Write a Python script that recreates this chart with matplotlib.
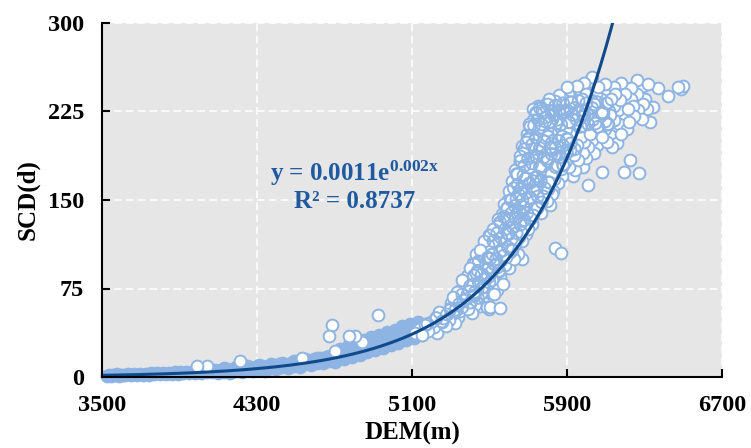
import numpy as np
import matplotlib
matplotlib.use("Agg")
import matplotlib.pyplot as plt

plt.rcParams['font.family'] = ['Liberation Serif', 'DejaVu Serif']
plt.rcParams['mathtext.fontset'] = 'custom'
plt.rcParams['mathtext.rm'] = 'Liberation Serif:bold'
plt.rcParams['mathtext.bf'] = 'Liberation Serif:bold'
plt.rcParams['mathtext.it'] = 'Liberation Serif:bold'

# ---------------- data (DEM in m, SCD in days) ----------------
x_ticks = [3500, 4300, 5100, 5900, 6700]
y_ticks = [0, 75, 150, 225, 300]

# trendline parameters (fit shown on chart)
trend_a = 0.0011
trend_b = 0.00204
eq_label = r'y = 0.0011e$^{0.002x}$'
r2_label = 'R² = 0.8737'

band_low = [
    (3525, 1.0), (3535, 1.9), (3545, 0.9), (3555, 1.8), (3565, 1.3), (3575, 2.2), (3590, 1.2),
    (3605, 2.0), (3620, 1.4), (3635, 2.4), (3650, 1.6), (3665, 2.6), (3680, 1.7), (3695, 2.5),
    (3710, 1.9), (3725, 2.9), (3740, 1.9), (3755, 3.0), (3770, 2.2), (3785, 3.2), (3800, 2.2),
    (3815, 3.4), (3830, 2.5), (3845, 3.6), (3860, 2.6), (3875, 3.9), (3890, 2.7), (3905, 4.1),
    (3920, 3.0), (3935, 4.4), (3950, 3.2), (3965, 4.6), (3980, 3.4), (3995, 5.0), (4010, 3.6),
    (4025, 5.2), (4040, 3.9), (4055, 5.6), (4070, 4.0), (4085, 5.9), (4100, 4.3), (4115, 6.2),
    (4130, 4.6), (4145, 6.6), (4160, 4.9), (4175, 7.0), (4190, 5.2), (4205, 7.4), (4220, 5.5),
    (4235, 7.8), (4250, 5.8), (4265, 8.3), (4280, 6.3), (4295, 8.7), (4310, 6.6), (4325, 9.2),
    (4340, 7.0), (4355, 9.7), (4370, 7.6), (4385, 10.2), (4400, 8.0), (4415, 10.8), (4430, 8.5),
    (4445, 11.4), (4460, 9.0), (4475, 12.0), (4490, 9.6), (4505, 12.7), (4520, 10.2), (4535, 13.5),
    (4550, 10.8), (4565, 14.2), (4580, 11.5), (4595, 15.0), (4610, 12.2), (4625, 15.8), (4640, 13.0),
    (4655, 16.6), (4670, 13.9), (4685, 17.5), (4700, 14.8),
]

band_mid = [
    (4710, 18.5), (4720, 15.8), (4730, 21.0), (4740, 17.0), (4750, 19.5), (4760, 23.0), (4770, 18.0),
    (4780, 21.5), (4790, 25.0), (4800, 19.5), (4810, 23.0), (4820, 27.0), (4830, 21.0), (4840, 25.0),
    (4850, 29.0), (4860, 22.5), (4870, 27.0), (4880, 31.0), (4890, 24.0), (4900, 28.5), (4910, 33.0),
    (4920, 25.5), (4930, 30.0), (4940, 34.5), (4950, 27.0), (4960, 31.5), (4970, 36.0), (4980, 29.0),
    (4990, 33.0), (5000, 37.0), (5010, 30.5), (5020, 35.0), (5030, 39.0), (5040, 32.0), (5050, 36.5),
    (5060, 40.5), (5070, 33.5), (5080, 38.0), (5090, 42.0), (5100, 35.0), (5120, 40.0), (5140, 37.5),
    (5160, 43.0), (5180, 40.5), (5200, 45.0),
]

band_edges = [
    (4100, 3.0), (4130, 7.5), (4160, 3.5), (4190, 8.2), (4220, 4.0), (4250, 9.0), (4280, 4.8),
    (4310, 10.0), (4340, 5.5), (4370, 11.0), (4400, 6.5), (4430, 12.2), (4460, 7.5), (4490, 13.5),
    (4520, 8.8), (4550, 15.0), (4580, 10.0), (4610, 16.5), (4640, 11.5), (4670, 18.0), (4700, 13.0),
    (4730, 24.0), (4750, 15.0), (4770, 26.0), (4790, 17.0), (4810, 28.5), (4830, 19.0), (4850, 31.5),
    (4870, 21.0), (4890, 33.5), (4910, 23.0), (4930, 36.0), (4950, 24.5), (4970, 38.5), (4990, 27.0),
    (5010, 40.0), (5030, 29.0), (5050, 43.0), (5070, 31.0), (5090, 45.0), (5110, 33.0), (5130, 47.0),
    (5150, 36.0),
]

outliers_low = [
    (4689, 44.0), (4672, 34.5), (4776, 35.0), (4807, 34.5), (4844, 30.0), (4923, 52.5),
    (4702, 22.0), (4212, 13.8), (4531, 15.8), (3989, 9.6), (4040, 9.0),
]

cloud_lower = [
    (5115, 37), (5135, 41), (5150, 36), (5165, 44), (5185, 39), (5200, 47), (5215, 42), (5230, 37),
    (5245, 45), (5260, 50), (5275, 43), (5290, 48), (5305, 53), (5320, 46), (5335, 51),
    (5240, 55), (5265, 52), (5290, 57), (5310, 55), (5330, 60), (5350, 56), (5370, 62), (5390, 58),
    (5410, 54), (5425, 61), (5300, 63), (5320, 66), (5345, 68), (5365, 65), (5385, 70), (5405, 66),
    (5430, 64), (5450, 60), (5470, 63), (5499, 58), (5554, 58.5), (5502, 59), (5485, 59.6),
    (5330, 72), (5350, 74), (5375, 77), (5395, 73), (5415, 79), (5435, 75), (5455, 71), (5470, 80),
    (5490, 76), (5510, 72), (5525, 70), (5540, 74), (5312, 68), (5360, 82), (5385, 86), (5405, 83),
    (5430, 88), (5450, 84), (5475, 89), (5495, 86), (5515, 82), (5535, 80), (5555, 85), (5571, 79),
    (5400, 92), (5420, 96), (5440, 93), (5460, 99), (5480, 95), (5500, 101), (5520, 97), (5540, 93),
    (5560, 99), (5580, 95), (5600, 92), (5430, 104), (5450, 108), (5470, 103), (5485, 109),
    (5505, 106), (5525, 110), (5545, 104), (5565, 108), (5585, 102), (5605, 106), (5625, 100),
    (5645, 104), (5666, 100), (5415, 97),
]

cloud_middle = [
    (5470, 115), (5490, 112), (5510, 118), (5530, 114), (5550, 120), (5570, 116), (5590, 122),
    (5610, 117), (5630, 113), (5650, 119), (5670, 115), (5690, 121), (5520, 125), (5540, 128),
    (5560, 124), (5580, 130), (5600, 126), (5620, 131), (5640, 127), (5660, 123), (5680, 129),
    (5700, 125), (5720, 130),
    (5545, 134), (5565, 138), (5585, 135), (5605, 141), (5625, 137), (5645, 143), (5665, 139),
    (5685, 135), (5705, 141), (5725, 137), (5745, 143), (5765, 139), (5575, 147), (5595, 150),
    (5615, 146), (5635, 152), (5655, 148), (5675, 153), (5695, 149), (5715, 145), (5735, 151),
    (5755, 147), (5775, 153), (5795, 149), (5812, 146),
    (5600, 158), (5620, 155), (5640, 161), (5660, 157), (5680, 163), (5700, 159), (5720, 155),
    (5740, 161), (5760, 157), (5780, 163), (5800, 159), (5820, 155), (5829, 158), (5615, 166),
    (5635, 169), (5655, 165), (5675, 171), (5695, 167), (5715, 172), (5735, 168), (5755, 164),
    (5775, 170), (5795, 166), (5815, 172), (5835, 168), (5855, 164), (5875, 170), (5932, 170),
]

cloud_upper = [
    (5630, 175), (5650, 179), (5670, 176), (5690, 182), (5710, 178), (5730, 184), (5750, 180),
    (5770, 176), (5790, 182), (5810, 178), (5830, 184), (5850, 180), (5870, 176), (5890, 182),
    (5910, 178), (5940, 175), (5984, 178), (5655, 187), (5675, 190), (5695, 186), (5715, 192),
    (5735, 188), (5755, 184), (5775, 190), (5795, 186), (5815, 192), (5835, 188), (5855, 184),
    (5875, 190), (5895, 186), (5915, 192), (5935, 188), (5955, 184), (5980, 190), (6000, 186),
    (6040, 190),
    (5668, 196), (5690, 199), (5710, 195), (5730, 201), (5750, 197), (5770, 203), (5790, 199),
    (5810, 195), (5830, 201), (5850, 197), (5870, 203), (5890, 199), (5910, 195), (5930, 201),
    (5950, 197), (5970, 203), (5990, 199), (6010, 195), (6030, 201), (6055, 197), (6080, 203),
    (6105, 199), (6130, 195), (6156, 198), (5695, 206), (5715, 209), (5735, 205), (5755, 211),
    (5775, 207), (5795, 210), (5815, 206), (5835, 212), (5855, 208), (5875, 204), (5895, 210),
    (5915, 206), (5935, 212), (5955, 208), (5975, 204), (5995, 210), (6020, 206), (6045, 211),
    (6070, 207), (6095, 210), (6120, 205), (6150, 209), (6180, 206), (6208, 210),
]

cloud_top = [
    (5705, 214), (5725, 218), (5745, 215), (5765, 221), (5785, 217), (5805, 223), (5825, 219),
    (5845, 215), (5865, 221), (5885, 217), (5905, 223), (5925, 219), (5945, 215), (5965, 221),
    (5985, 217), (6005, 223), (6025, 219), (6045, 215), (6070, 221), (6095, 217), (6120, 222),
    (6145, 218), (6170, 214), (6195, 220), (6220, 216), (6245, 221), (6285, 219), (6328, 216),
    (5725, 227), (5750, 230), (5770, 226), (5790, 231), (5810, 227), (5830, 229), (5850, 225),
    (5870, 231), (5890, 227), (5910, 229), (5930, 225), (5950, 231), (5970, 227), (5990, 229),
    (6015, 225), (6040, 231), (6065, 227), (6090, 229), (6115, 225), (6140, 230), (6165, 226),
    (6190, 231), (6215, 227), (6240, 230), (6265, 226), (6290, 231), (6315, 227), (6344, 229),
    (5809, 236), (5840, 234), (5860, 239), (5885, 235), (5905, 240), (5930, 236), (5955, 241),
    (5975, 236), (6000, 240), (6025, 235), (6050, 240), (6075, 236), (6100, 241), (6125, 236),
    (6150, 240), (6175, 235), (6200, 240), (6230, 236), (6260, 240), (6300, 236), (6423, 238),
    (5900, 246), (5950, 247), (5990, 249), (6027, 254), (6010, 250), (6060, 246), (6095, 248),
    (6140, 246), (6180, 249), (6230, 245), (6259, 252), (6290, 247), (6320, 248), (6371, 245),
    (6474, 245.5), (6500, 247), (6490, 244),
]

cloud_core = [
    (5180, 45), (5225, 50), (5255, 47), (5280, 53), (5300, 58), (5325, 57), (5345, 62), (5360, 59),
    (5380, 66), (5400, 63), (5420, 69), (5440, 67), (5360, 70), (5400, 77), (5425, 72), (5445, 80),
    (5465, 76), (5480, 84), (5500, 80), (5420, 86), (5440, 90), (5460, 87), (5490, 92), (5510, 89),
    (5530, 95), (5550, 90), (5445, 98), (5490, 101), (5515, 104), (5535, 100), (5555, 106),
    (5575, 103), (5595, 110), (5615, 108),
    (5500, 120), (5520, 115), (5540, 122), (5560, 118), (5580, 125), (5600, 121), (5620, 127),
    (5640, 122), (5660, 129), (5680, 133), (5555, 131), (5575, 136), (5595, 133), (5615, 139),
    (5635, 134), (5655, 140), (5675, 144), (5695, 139), (5715, 134), (5590, 143), (5610, 150),
    (5630, 145), (5650, 155), (5670, 150), (5690, 156), (5710, 152), (5730, 158), (5750, 153),
    (5770, 148), (5625, 160), (5645, 163), (5665, 160), (5685, 168), (5705, 164), (5725, 166),
    (5745, 170), (5765, 166), (5785, 160), (5805, 165),
    (5640, 172), (5660, 183), (5680, 179), (5700, 185), (5720, 181), (5740, 187), (5760, 178),
    (5780, 186), (5800, 183), (5820, 189), (5840, 178), (5860, 186), (5880, 180), (5900, 190),
    (5680, 193), (5700, 202), (5720, 197), (5740, 203), (5760, 194), (5780, 200), (5800, 204),
    (5820, 198), (5840, 194), (5860, 200), (5880, 196), (5900, 202), (5920, 198), (5940, 193),
    (5710, 212), (5730, 213), (5750, 218), (5770, 214), (5790, 220), (5810, 216), (5830, 222),
    (5850, 218), (5870, 214), (5890, 224), (5910, 216), (5930, 222), (5950, 218), (5970, 212),
    (5990, 222), (6010, 214), (6035, 218), (6060, 212), (6085, 224), (6110, 214), (5740, 224),
    (5760, 228), (5780, 224), (5800, 231), (5820, 225), (5840, 230), (5860, 226), (5880, 232),
    (5900, 226), (5920, 233), (5940, 228), (5960, 234), (5980, 226), (6000, 232), (6030, 228),
    (6055, 233), (6080, 224), (6105, 232),
]

outliers_high = [
    (5838, 109), (5867, 105), (6079, 174), (6195, 174), (6225, 184), (6273, 173), (6010, 163),
]

# ---------------- figure ----------------
edge_blue = '#8DB4E2'

band = np.array(band_low + band_mid + band_edges, dtype=float)
cloud = np.array(outliers_low + cloud_lower + cloud_middle + cloud_core + cloud_upper
                 + cloud_top + outliers_high, dtype=float)
core = np.array(cloud_core, dtype=float)

# mix the drawing order so the overlaps look like an unsorted point set
n = len(cloud)
step = 97
while np.gcd(step, n) != 1:
    step += 2
order = (np.arange(n) * step) % n
cloud = cloud[order]

fig = plt.figure(figsize=(7.51, 4.48), dpi=100)
ax = fig.add_axes([102 / 751, 1 - 377 / 448, 620 / 751, 354 / 448])
ax.set_facecolor('#E6E6E6')
ax.set_xlim(x_ticks[0], x_ticks[-1])
ax.set_ylim(y_ticks[0], y_ticks[-1])
ax.set_xticks(x_ticks)
ax.set_yticks(y_ticks)
ax.grid(True, color='white', linestyle=(0, (5, 2.8)), linewidth=1.1)
ax.set_axisbelow(True)
for s in ['top', 'right']:
    ax.spines[s].set_visible(False)
for s in ['left', 'bottom']:
    ax.spines[s].set_linewidth(1.5)
    ax.spines[s].set_color('black')
    ax.spines[s].set_zorder(5)
ax.tick_params(direction='in', length=6, width=1.5, labelsize=17.5, pad=13)
for lab in ax.get_xticklabels() + ax.get_yticklabels():
    lab.set_fontweight('bold')

msize = 72
ax.scatter(band[:, 0], band[:, 1], s=msize, facecolors=edge_blue, edgecolors=edge_blue,
           linewidths=1.4, clip_on=False, zorder=3)
ax.scatter(cloud[:, 0], cloud[:, 1], s=msize, facecolors='white', edgecolors=edge_blue,
           linewidths=1.4, clip_on=False, zorder=3.1)
ax.scatter(core[:, 0], core[:, 1], s=msize, facecolors='none', edgecolors=edge_blue,
           linewidths=1.4, clip_on=False, zorder=3.2)

xs = np.linspace(x_ticks[0], x_ticks[-1], 600)
ax.plot(xs, trend_a * np.exp(trend_b * xs), color='#114A8A', lw=2.2, zorder=4)

ax.text(4806, 173, eq_label, color='#1F5AA0', fontsize=18, fontweight='bold',
        ha='center', va='center', zorder=6)
ax.text(4806, 148.5, r2_label, color='#1F5AA0', fontsize=18, fontweight='bold',
        ha='center', va='center', zorder=6)

ax.set_xlabel('DEM(m)', fontsize=18, fontweight='bold', labelpad=4)
ax.set_ylabel('SCD(d)', fontsize=18, fontweight='bold', labelpad=6)

fig.savefig('out.png', dpi=100)
